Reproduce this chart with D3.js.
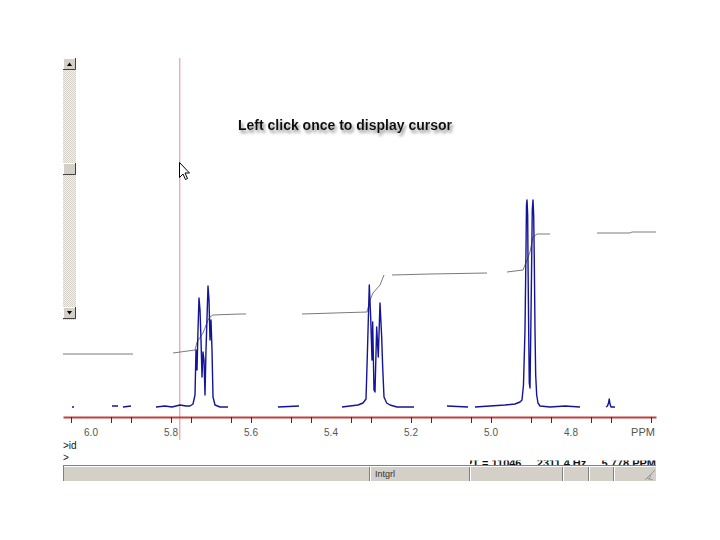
<!DOCTYPE html>
<html>
<head>
<meta charset="utf-8">
<script src="https://cdn.jsdelivr.net/npm/d3@7"></script>
<style>
  body { margin: 0; background: #fff; }
  svg { display: block; font-family: "Liberation Sans", Arial, sans-serif; }
</style>
</head>
<body>
<div class="chart"></div>
<script>
// ---- data ----
// axis ticks (ppm) and labelled values
var tickPPM = [6.05, 5.95, 5.9, 5.8, 5.75, 5.65, 5.6, 5.5, 5.45, 5.35, 5.3, 5.2,
               5.15, 5.05, 5.0, 4.9, 4.85, 4.75, 4.7, 4.6];
var labelPPM = [6.0, 5.8, 5.6, 5.4, 5.2, 5.0, 4.8];

// spectrum trace, null = gap in the drawn trace
var specPPM = [6.0475, 6.0425, null,
  5.9475, 5.9325, null,
  5.92, 5.90, null,
  5.8375, 5.815, 5.7975, 5.7775, 5.7625, 5.7525, 5.745, 5.74, 5.7375, 5.735, 5.7325, 5.73,
  5.7275, 5.725, 5.7225, 5.72, 5.7175, 5.715, 5.7125, 5.71, 5.7075, 5.705, 5.7025, 5.70,
  5.6975, 5.695, 5.69, 5.6775, 5.6575, null,
  5.5325, 5.48, null,
  5.3725, 5.3525, 5.3325, 5.32, 5.3125, 5.3093, 5.3043, 5.3008, 5.2975, 5.2958, 5.2925, 5.29,
  5.2858, 5.2818, 5.2775, 5.2733, 5.2708, 5.2675, 5.2608, 5.2525, 5.235, 5.21, 5.1925, null,
  5.11, 5.0575, null,
  5.04, 5.0025, 4.965, 4.94, 4.9275, 4.9225, 4.9188, 4.915, 4.9125, 4.9113, 4.91, 4.9083,
  4.9075, 4.9058, 4.9043, 4.9025, 4.9008, 4.8983, 4.8968, 4.895, 4.8933, 4.8918, 4.89,
  4.8883, 4.8858, 4.8825, 4.8775, 4.8525, 4.815, 4.7775, null,
  4.7125, 4.7088, 4.7063, 4.7043, 4.7025, 4.70, 4.69];
var specInt = [0, 0, null,
  1, 1, null,
  0, 1, null,
  0, 1, 0, 2, 1, 1, 3, 12, 57, 37, 77, 109,
  97, 67, 30, 55, 47, 12, 57, 89, 121, 107, 67, 87,
  57, 10, 2, 0, 0, null,
  0, 1, null,
  0, 1, 2, 4, 8, 50, 122, 90, 47, 85, 17, 15,
  80, 50, 104, 70, 40, 10, 4, 2, 0, 0, 0, null,
  1, 0, null,
  0, 1, 2, 3, 5, 7, 22, 77, 157, 202, 207, 192,
  147, 77, 24, 19, 67, 147, 197, 207, 192, 147, 77,
  32, 12, 4, 1, 0, 1, 0, null,
  0, 1, 4, 8, 3, 0, 0];

// integral trace
var intPPM = [6.07, 5.895, null,
  5.795, 5.74, 5.735, 5.72, 5.7075, 5.7025, 5.695, 5.6275, 5.6125, null,
  5.4725, 5.31, 5.3025, 5.295, 5.2775, 5.2675, null,
  5.2475, 5.1525, 5.01, null,
  4.96, 4.92, 4.91, 4.9025, 4.895, 4.885, 4.8525, null,
  4.735, 4.6525, 4.6475, 4.5875];
var intVal = [53, 53, null,
  54, 57, 65, 74, 87, 90, 92, 93, 93, null,
  93, 95, 107, 114, 122, 132, null,
  132, 133, 134, null,
  135, 137, 147, 155, 170, 173, 173, null,
  174, 174, 175, 175];

var cursorPPM = 5.778;
var readout = "PT = 11046     2311.4 Hz     5.778 PPM";

// ---- layout ----
var svgWidth = 720;
var svgHeight = 540;
var plot = { left: 63, right: 656, base: 407, axisY: 417 };

var svg = d3.select(".chart")
  .append("svg")
  .attr("width", svgWidth)
  .attr("height", svgHeight);

svg.append("rect").attr("width", svgWidth).attr("height", svgHeight).attr("fill", "#fff");

var defs = svg.append("defs");
var pat = defs.append("pattern")
  .attr("id", "chk").attr("width", 2).attr("height", 2)
  .attr("patternUnits", "userSpaceOnUse");
pat.append("rect").attr("width", 2).attr("height", 2).attr("fill", "#f4f3ee");
pat.append("rect").attr("width", 1).attr("height", 1).attr("fill", "#d4d0c8");
pat.append("rect").attr("x", 1).attr("y", 1).attr("width", 1).attr("height", 1).attr("fill", "#d4d0c8");

var shadow = defs.append("filter").attr("id", "shadow")
  .attr("x", "-10%").attr("y", "-50%").attr("width", "120%").attr("height", "200%");
shadow.append("feDropShadow")
  .attr("dx", 2).attr("dy", 3).attr("stdDeviation", 1.6)
  .attr("flood-color", "#777").attr("flood-opacity", 0.8);

defs.append("clipPath").attr("id", "readclip")
  .append("rect").attr("x", 470).attr("y", 460.5).attr("width", 200).attr("height", 4.5);

// scales
var x = d3.scaleLinear().domain([6.07, 4.5875]).range([plot.left, plot.right]);
var y = d3.scaleLinear().domain([0, 250]).range([plot.base, plot.base - 250]);

// cursor line
svg.append("line")
  .attr("x1", x(cursorPPM)).attr("x2", x(cursorPPM))
  .attr("y1", 58).attr("y2", 440)
  .attr("stroke", "#e48c8c").attr("stroke-width", 1);

// integral
var intData = intPPM.map(function (p, i) { return { p: p, v: intVal[i] }; });
svg.append("path")
  .datum(intData)
  .attr("fill", "none")
  .attr("stroke", "#7a7a7a")
  .attr("stroke-width", 1)
  .attr("d", d3.line()
    .defined(function (d) { return d.p !== null && d.v !== null; })
    .x(function (d) { return x(d.p); })
    .y(function (d) { return y(d.v); }));

// spectrum
var specData = specPPM.map(function (p, i) { return { p: p, v: specInt[i] }; });
svg.append("path")
  .datum(specData)
  .attr("fill", "none")
  .attr("stroke", "#14149a")
  .attr("stroke-width", 1.4)
  .attr("stroke-linejoin", "round")
  .attr("d", d3.line()
    .defined(function (d) { return d.p !== null && d.v !== null; })
    .x(function (d) { return x(d.p); })
    .y(function (d) { return y(d.v); }));

// axis
var axis = d3.axisBottom(x)
  .tickValues(tickPPM)
  .tickSize(6)
  .tickSizeOuter(0)
  .tickFormat("");
var axisG = svg.append("g")
  .attr("transform", "translate(0," + plot.axisY + ")")
  .call(axis);
axisG.select(".domain").attr("stroke", "#c04040").attr("stroke-width", 2);
axisG.selectAll(".tick line").attr("stroke", "#333");

svg.append("g").selectAll("text")
  .data(labelPPM)
  .enter()
  .append("text")
  .attr("x", function (d) { return x(d); })
  .attr("y", 436)
  .attr("text-anchor", "middle")
  .attr("font-size", 10)
  .attr("fill", "#555")
  .text(function (d) { return d.toFixed(1); });

svg.append("text")
  .attr("x", 643).attr("y", 436)
  .attr("text-anchor", "middle")
  .attr("font-size", 11)
  .attr("fill", "#555")
  .text("PPM");

// command lines
svg.append("text").attr("x", 63).attr("y", 449).attr("font-size", 10).attr("fill", "#111").text(">id");
svg.append("text").attr("x", 63).attr("y", 461).attr("font-size", 10).attr("fill", "#111").text(">");

// readout (partly hidden)
svg.append("text")
  .attr("clip-path", "url(#readclip)")
  .attr("x", 656).attr("y", 467)
  .attr("text-anchor", "end")
  .attr("font-size", 11)
  .attr("font-weight", "bold")
  .attr("fill", "#111")
  .style("white-space", "pre")
  .text(readout);

// status bar
var bar = svg.append("g");
bar.append("rect").attr("x", 63).attr("y", 465).attr("width", 593).attr("height", 16).attr("fill", "#d4d0c8");
bar.append("line").attr("x1", 63).attr("x2", 656).attr("y1", 465.5).attr("y2", 465.5).attr("stroke", "#808080");
bar.append("line").attr("x1", 63).attr("x2", 656).attr("y1", 466.5).attr("y2", 466.5).attr("stroke", "#ffffff");
bar.append("line").attr("x1", 63.5).attr("x2", 63.5).attr("y1", 466).attr("y2", 481).attr("stroke", "#808080");
var dividers = [370, 470, 563, 589, 614];
dividers.forEach(function (dx) {
  bar.append("line").attr("x1", dx - 0.5).attr("x2", dx - 0.5).attr("y1", 467).attr("y2", 481).attr("stroke", "#808080");
  bar.append("line").attr("x1", dx + 0.5).attr("x2", dx + 0.5).attr("y1", 467).attr("y2", 481).attr("stroke", "#fff");
});
bar.append("text").attr("x", 375).attr("y", 477).attr("font-size", 9).attr("fill", "#333").text("Intgrl");
[0, 4, 8].forEach(function (o) {
  bar.append("line")
    .attr("x1", 655 - o).attr("y1", 470 + o).attr("x2", 645 + o).attr("y2", 480)
    .attr("stroke", "#999");
});

// scrollbar
var sb = svg.append("g");
sb.append("rect").attr("x", 63).attr("y", 58).attr("width", 13).attr("height", 262).attr("fill", "url(#chk)");
function button(y0, h) {
  sb.append("rect").attr("x", 63).attr("y", y0).attr("width", 13).attr("height", h).attr("fill", "#d4d0c8");
  sb.append("path").attr("d", "M63.5," + (y0 + h) + "V" + (y0 + 0.5) + "H76").attr("stroke", "#fff").attr("fill", "none");
  sb.append("path").attr("d", "M63," + (y0 + h - 0.5) + "H75.5V" + y0).attr("stroke", "#404040").attr("fill", "none");
}
button(58, 12);
button(163, 12);
button(307, 12);
sb.append("path").attr("d", "M67,66 L69.5,62.5 L72,66 Z").attr("fill", "#000");
sb.append("path").attr("d", "M67,311 L69.5,314.5 L72,311 Z").attr("fill", "#000");

// caption
svg.append("text")
  .attr("x", 345).attr("y", 130)
  .attr("text-anchor", "middle")
  .attr("font-size", 14)
  .attr("font-weight", "bold")
  .attr("fill", "#111")
  .attr("filter", "url(#shadow)")
  .text("Left click once to display cursor");

// mouse pointer
svg.append("path")
  .attr("transform", "translate(179.5,162.5)")
  .attr("d", "M0,0 L0,15 L3.5,11.5 L6,17 L8,16 L5.5,10.5 L10,10.5 Z")
  .attr("fill", "#fff")
  .attr("stroke", "#000")
  .attr("stroke-width", 1);
</script>
</body>
</html>
